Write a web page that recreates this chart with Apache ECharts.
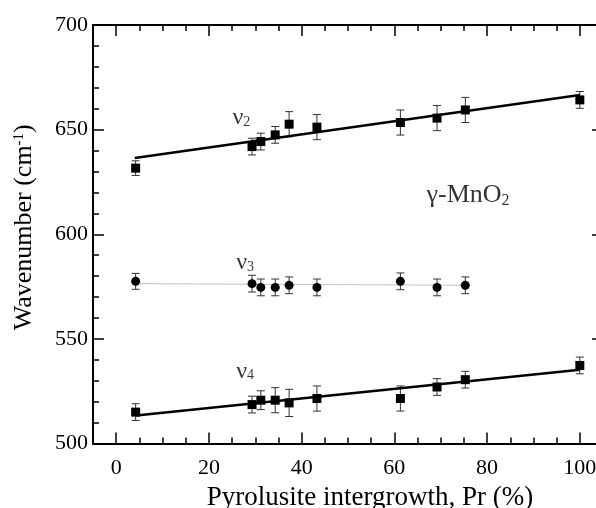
<!DOCTYPE html>
<html>
<head>
<meta charset="utf-8">
<script src="https://cdn.jsdelivr.net/npm/echarts@6/dist/echarts.min.js"></script>
<style>
html,body{margin:0;padding:0;background:#fff;}
#chart{width:596px;height:508px;}
</style>
</head>
<body>
<div id="chart"></div>
<script>
// ---- data ----
const prX   = [4.2, 29.3, 31.2, 34.3, 37.3, 43.3, 61.3, 69.2, 75.3, 100];
const nu2    = [631.6, 641.9, 644.3, 647.5, 652.6, 651.2, 653.4, 655.5, 659.4, 664.2];
const nu2Err = [3.5, 4, 4, 4, 6, 6, 6, 6, 6, 4];
const prX3  = [4.2, 29.3, 31.2, 34.3, 37.3, 43.3, 61.3, 69.2, 75.3];
const nu3    = [577.5, 576.4, 574.6, 574.6, 575.6, 574.6, 577.5, 574.6, 575.6];
const nu3Err = [3.8, 4, 4, 4, 4, 4, 4, 4, 4];
const nu4    = [515.0, 518.6, 520.7, 520.7, 519.4, 521.5, 521.5, 527.0, 530.5, 537.3];
const nu4Err = [4, 4, 4.5, 6, 6.5, 6, 6, 4, 4, 4];
const nu2Fit = [[4, 636.4], [100, 666.6]];
const nu3Fit = [[4.2, 576.4], [75.3, 575.6]];
const nu4Fit = [[4.3, 513.4], [100, 535.3]];
const xMajor = [0, 20, 40, 60, 80, 100];
const xMinor = [5, 10, 15, 25, 30, 35, 45, 50, 55, 65, 70, 75, 85, 90, 95];
const labelNu2 = [27.0, 655.6];
const labelNu3 = [27.8, 586.3];
const labelNu4 = [27.8, 534.3];
const labelPhase = [75.9, 618.8];

const FONT = 'Liberation Serif';
const chart = echarts.init(document.getElementById('chart'), null, {renderer: 'canvas'});

function errSeries(xs, ys, es) {
  return {
    type: 'custom', z: 2, silent: true,
    data: xs.map((x, i) => [x, ys[i], es[i]]),
    encode: {x: 0, y: 1},
    renderItem: function (params, api) {
      const x = api.value(0), y = api.value(1), e = api.value(2);
      const t = api.coord([x, y + e]);
      const b = api.coord([x, y - e]);
      const hw = 4;
      const st = {stroke: '#333', lineWidth: 1};
      return {type: 'group', children: [
        {type: 'line', shape: {x1: t[0], y1: t[1], x2: b[0], y2: b[1]}, style: st},
        {type: 'line', shape: {x1: t[0] - hw, y1: t[1], x2: t[0] + hw, y2: t[1]}, style: st},
        {type: 'line', shape: {x1: b[0] - hw, y1: b[1], x2: b[0] + hw, y2: b[1]}, style: st}
      ]};
    }
  };
}
function pts(xs, ys) { return xs.map((x, i) => [x, ys[i]]); }
function labelSeries(pos, text, rich) {
  return {
    type: 'scatter', symbolSize: 0, z: 5, silent: true,
    data: [pos],
    label: {show: true, position: 'inside', formatter: text, rich: rich, color: '#000'}
  };
}

const axLine = {show: true, onZero: false, lineStyle: {color: '#000', width: 2}};
const noLine = {show: false, onZero: false};
const xBase = {type: 'value', min: -5, max: 105, splitLine: {show: false}};

const option = {
  animation: false,
  backgroundColor: '#fff',
  grid: {left: 93, right: -7, top: 25, bottom: 64.5, containLabel: false, outerBoundsMode: 'none'},
  xAxis: [
    Object.assign({}, xBase, {
      position: 'bottom', axisLine: axLine,
      axisTick: {show: true, inside: true, length: 11, customValues: xMajor, lineStyle: {color: '#000', width: 1.5}},
      axisLabel: {show: true, customValues: xMajor, fontFamily: FONT, fontSize: 22, color: '#000', margin: 14},
      name: 'Pyrolusite intergrowth, Pr (%)', nameLocation: 'middle', nameGap: 40,
      nameTextStyle: {fontFamily: FONT, fontSize: 27, color: '#000', padding: [0, 0, 0, 44]}
    }),
    Object.assign({}, xBase, {
      position: 'bottom', axisLine: noLine,
      axisTick: {show: true, inside: true, length: 6, customValues: xMinor, lineStyle: {color: '#000', width: 1.5}},
      axisLabel: {show: false}
    }),
    Object.assign({}, xBase, {
      position: 'top', axisLine: axLine,
      axisTick: {show: true, inside: true, length: 11, customValues: xMajor, lineStyle: {color: '#000', width: 1.5}},
      axisLabel: {show: false}
    }),
    Object.assign({}, xBase, {
      position: 'top', axisLine: noLine,
      axisTick: {show: true, inside: true, length: 6, customValues: xMinor, lineStyle: {color: '#000', width: 1.5}},
      axisLabel: {show: false}
    })
  ],
  yAxis: [
    {
      type: 'value', min: 500, max: 700, interval: 50, position: 'left',
      axisLine: axLine, splitLine: {show: false},
      axisTick: {show: true, inside: true, length: 11, lineStyle: {color: '#000', width: 1.5}},
      minorTick: {show: true, splitNumber: 5, length: 6, lineStyle: {color: '#000', width: 1.5}},
      axisLabel: {fontFamily: FONT, fontSize: 22, color: '#000', margin: 5},
      name: 'Wavenumber (cm{sup|-1})', nameLocation: 'middle', nameGap: 56, nameRotate: 90,
      nameTextStyle: {fontFamily: FONT, fontSize: 26, color: '#000', padding: [0, 0, 0, 14],
        rich: {sup: {fontFamily: FONT, fontSize: 15, color: '#000', padding: [0, 0, 10, 0]}}}
    },
    {
      type: 'value', min: 500, max: 700, interval: 50, position: 'right',
      axisLine: axLine, splitLine: {show: false},
      axisTick: {show: true, inside: true, length: 11, lineStyle: {color: '#000', width: 1.5}},
      minorTick: {show: true, splitNumber: 5, length: 6, lineStyle: {color: '#000', width: 1.5}},
      axisLabel: {show: false}
    }
  ],
  series: [
    errSeries(prX, nu2, nu2Err),
    errSeries(prX3, nu3, nu3Err),
    errSeries(prX, nu4, nu4Err),
    {type: 'line', data: nu2Fit, showSymbol: false, z: 3, lineStyle: {color: '#000', width: 2.5}},
    {type: 'line', data: nu3Fit, showSymbol: false, z: 1, lineStyle: {color: '#888', width: 1, type: 'dotted'}},
    {type: 'line', data: nu4Fit, showSymbol: false, z: 3, lineStyle: {color: '#000', width: 2.5}},
    {type: 'scatter', data: pts(prX, nu2), symbol: 'rect', symbolSize: 9, z: 4, itemStyle: {color: '#000', opacity: 1}},
    {type: 'scatter', data: pts(prX3, nu3), symbol: 'circle', symbolSize: 9, z: 4, itemStyle: {color: '#000', opacity: 1}},
    {type: 'scatter', data: pts(prX, nu4), symbol: 'rect', symbolSize: 9, z: 4, itemStyle: {color: '#000', opacity: 1}},
    labelSeries(labelNu2, '{v|ν}{s|2}', {
      v: {fontFamily: FONT, fontSize: 24, color: '#000'},
      s: {fontFamily: FONT, fontSize: 14, color: '#000', padding: [8, 0, 0, 0]}}),
    labelSeries(labelNu3, '{v|ν}{s|3}', {
      v: {fontFamily: FONT, fontSize: 24, color: '#000'},
      s: {fontFamily: FONT, fontSize: 14, color: '#000', padding: [8, 0, 0, 0]}}),
    labelSeries(labelNu4, '{v|ν}{s|4}', {
      v: {fontFamily: FONT, fontSize: 24, color: '#000'},
      s: {fontFamily: FONT, fontSize: 14, color: '#000', padding: [8, 0, 0, 0]}}),
    labelSeries(labelPhase, '{t|γ-MnO}{s|2}', {
      t: {fontFamily: FONT, fontSize: 26, color: '#000'},
      s: {fontFamily: FONT, fontSize: 16, color: '#000', padding: [12, 0, 0, 0]}})
  ]
};
chart.setOption(option);
</script>
</body>
</html>
